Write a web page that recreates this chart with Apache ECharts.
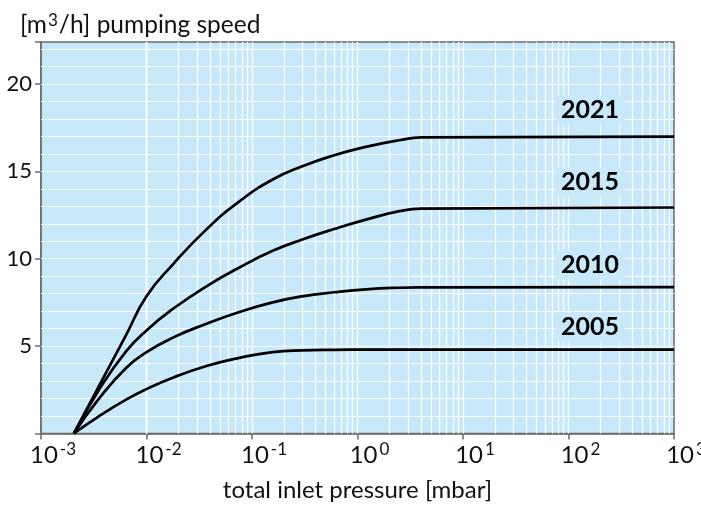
<!DOCTYPE html>
<html><head><meta charset="utf-8">
<script src="https://cdn.jsdelivr.net/npm/echarts@6/dist/echarts.min.js"></script>
<style>html,body{margin:0;padding:0;background:#fff}#c{width:701px;height:508px}</style>
</head><body><div id="c"></div>
<script>
// ---- data ----
const pressures = [0.00205, 0.0035, 0.0064, 0.01, 0.018, 0.037, 0.076, 0.157, 0.3, 0.6, 1.2, 2.5, 4, 1000];
const s2021 = [0, 2.65, 5.63, 7.85, 9.71, 11.68, 13.28, 14.53, 15.29, 15.92, 16.4, 16.78, 16.94, 16.99];
const s2015 = [0, 2.45, 4.7, 5.9, 7.15, 8.42, 9.5, 10.45, 11.1, 11.7, 12.24, 12.72, 12.87, 12.93];
const s2010 = [0, 1.95, 3.75, 4.65, 5.5, 6.28, 6.95, 7.5, 7.85, 8.08, 8.25, 8.34, 8.36, 8.38];
const s2005 = [0, 0.97, 1.94, 2.54, 3.2, 3.86, 4.33, 4.66, 4.76, 4.79, 4.8, 4.8, 4.8, 4.8];
const seriesNames = ['2021', '2015', '2010', '2005'];
const yTickLabels = [5, 10, 15, 20];
const xExponents = [-3, -2, -1, 0, 1, 2, 3];

const seriesValues = [s2021, s2015, s2010, s2005];
const BG = '#c8e9fa';
const FONT = 'Lato';

// grid lines (log minor lines 1..9 per decade, horizontal each unit)
const gridLines = [];
for (let d = -3; d < 3; d++) {
  for (let k = 1; k <= 9; k++) {
    if (d === -3 && k === 1) continue;
    gridLines.push({ xAxis: k * Math.pow(10, d) });
  }
}
for (let v = 1; v <= 22; v++) gridLines.push({ yAxis: v });

// label anchors (positions in data space)
const labelAnchor = { '2021': [160, 18.52], '2015': [160, 14.37], '2010': [160, 9.66], '2005': [160, 6.09] };

const series = seriesNames.map((name, i) => ({
  name: name,
  type: 'line',
  data: pressures.map((p, j) => [p, seriesValues[i][j]]),
  showSymbol: false,
  symbol: 'none',
  smooth: 0.5,
  z: 3,
  lineStyle: { color: '#000', width: 2.7 },
  markPoint: {
    symbol: 'rect', symbolSize: 0, silent: true, z: 4,
    data: [{ coord: labelAnchor[name], value: name }],
    label: {
      show: true, position: 'inside', formatter: name,
      fontFamily: FONT, fontWeight: 'bold', fontSize: 25, color: '#000',
      backgroundColor: BG, padding: [2, 5]
    }
  }
}));

series.push({
  name: 'grid', type: 'line', data: [], silent: true, z: 1,
  markLine: {
    silent: true, symbol: ['none', 'none'], z: 1, animation: false,
    label: { show: false },
    lineStyle: { color: '#ffffff', width: 1.2, type: 'solid', opacity: 0.95 },
    emphasis: { disabled: true },
    data: gridLines
  }
});

const chart = echarts.init(document.getElementById('c'), null, { renderer: 'canvas' });
chart.setOption({
  animation: false,
  backgroundColor: '#fff',
  title: {
    text: '[m{s|3}/h] pumping speed', left: 15, top: 7,
    textStyle: {
      fontFamily: FONT, fontSize: 24.5, fontWeight: 'normal', color: '#111',
      rich: { s: { fontFamily: FONT, fontSize: 17, color: '#111', verticalAlign: 'top', padding: [0, 1, 10, 1] } }
    }
  },
  grid: {
    left: 41, right: 27, top: 42, bottom: 74.5,
    outerBoundsMode: 'none', containLabel: false,
    show: true, backgroundColor: BG, borderColor: '#6b6b6b', borderWidth: 1.5
  },
  xAxis: {
    type: 'log', logBase: 10, min: 0.001, max: 1000,
    name: 'total inlet pressure [mbar]', nameLocation: 'middle', nameGap: 45,
    nameTextStyle: { fontFamily: FONT, fontSize: 24, color: '#111' },
    axisLine: { show: true, lineStyle: { color: '#6b6b6b', width: 1.5 } },
    axisTick: { show: true, inside: false, length: 6, lineStyle: { color: '#6b6b6b', width: 1.5 } },
    splitLine: { show: false },
    minorTick: { show: false }, minorSplitLine: { show: false },
    axisLabel: {
      margin: 8, interval: 0, hideOverlap: false,
      formatter: v => {
        const e = Math.round(Math.log10(v));
        if (xExponents.indexOf(e) < 0) return '';
        return '{sp|}{b|10}{s|' + (e < 0 ? '-' + (-e) : String(e)) + '}';
      },
      rich: {
        sp: { width: 24 },
        b: { fontFamily: FONT, fontSize: 24, color: '#111', lineHeight: 28 },
        s: { fontFamily: FONT, fontSize: 17, color: '#111', verticalAlign: 'top', lineHeight: 18, padding: [0, 0, 0, 2] }
      }
    }
  },
  yAxis: {
    type: 'value', min: 0, max: 22.4, interval: 5,
    axisLine: { show: true, lineStyle: { color: '#6b6b6b', width: 1.5 } },
    axisTick: { show: true, inside: false, length: 6, lineStyle: { color: '#6b6b6b', width: 1.5 } },
    splitLine: { show: false },
    axisLabel: {
      margin: 9, fontFamily: FONT, fontSize: 22, color: '#111',
      formatter: v => (yTickLabels.indexOf(v) >= 0 ? String(v) : '')
    }
  },
  series: series
});
</script>
</body></html>
